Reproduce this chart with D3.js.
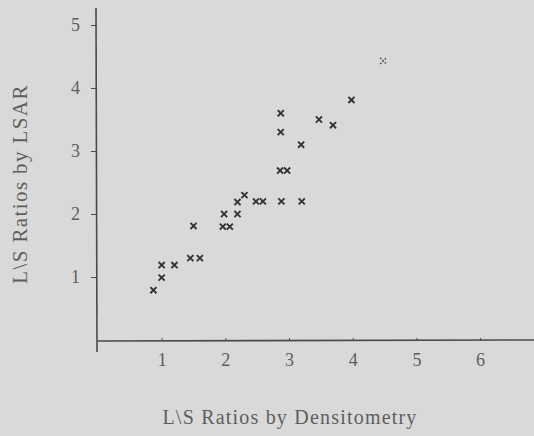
<!DOCTYPE html>
<html>
<head>
<meta charset="utf-8">
<script src="https://cdn.jsdelivr.net/npm/d3@7/dist/d3.min.js"></script>
<style>
  html, body { margin: 0; padding: 0; background: #d9d9d9; }
  svg { display: block; }
</style>
</head>
<body>
<svg id="chart" width="534" height="436"></svg>
<script>
// L/S ratios: densitometry (x) vs LSAR (y)
const densitometry = [0.87, 1.0, 1.0, 1.2, 1.45, 1.6, 1.5, 1.96, 2.07, 1.98, 2.19, 2.19, 2.3, 2.48, 2.59, 2.88, 3.2,
                      2.86, 2.97, 3.19, 2.87, 2.87, 3.47, 3.69, 3.98, 4.48];
const lsar         = [0.79, 0.99, 1.19, 1.19, 1.3, 1.3, 1.81, 1.8, 1.8, 2.0, 2.0, 2.19, 2.3, 2.2, 2.2, 2.2, 2.2,
                      2.69, 2.69, 3.1, 3.3, 3.6, 3.5, 3.41, 3.81, 4.43];
// last reading is drawn with a faint dotted marker
const faint        = [false, false, false, false, false, false, false, false, false, false, false, false, false,
                      false, false, false, false, false, false, false, false, false, false, false, false, true];
const xTicks = [1, 2, 3, 4, 5, 6];
const yTicks = [1, 2, 3, 4, 5];
const xTitle = "L\\S Ratios  by  Densitometry";
const yTitle = "L\\S Ratios by LSAR";

const serif = "Liberation Serif, Times New Roman, serif";
const textCol = "#5e5e5e";
const ink = "#4a4a4a";

const svg = d3.select("#chart");
const x = d3.scaleLinear().domain([0, 6.8]).range([98, 531]);
const y = d3.scaleLinear().domain([0, 5]).range([340, 25]);

// y axis
const gy = svg.append("g").attr("transform", "translate(96,0)")
  .call(d3.axisLeft(y).tickValues(yTicks).tickSize(5).tickPadding(11).tickFormat(d3.format("d")))
  .attr("font-family", serif).attr("font-size", 18);
gy.select(".domain").remove();
gy.selectAll(".tick line").attr("stroke", ink).attr("stroke-width", 1);
gy.selectAll(".tick text").attr("fill", textCol);
svg.append("line").attr("x1", 96).attr("x2", 97).attr("y1", 8).attr("y2", 352)
  .attr("stroke", ink).attr("stroke-width", 1.6);

// x axis
const gx = svg.append("g").attr("transform", "translate(0,341)")
  .call(d3.axisBottom(x).tickValues(xTicks).tickSize(-3).tickPadding(12).tickFormat(d3.format("d")))
  .attr("font-family", serif).attr("font-size", 18);
gx.select(".domain").remove();
gx.selectAll(".tick line").attr("stroke", ink).attr("stroke-width", 1);
gx.selectAll(".tick text").attr("fill", textCol);
svg.append("line").attr("x1", 97).attr("x2", 534).attr("y1", 341).attr("y2", 340)
  .attr("stroke", ink).attr("stroke-width", 1.6);

// titles
svg.append("text").attr("x", 290).attr("y", 424).attr("text-anchor", "middle")
  .attr("font-family", serif).attr("font-size", 20).attr("letter-spacing", 1.2)
  .attr("fill", textCol).text(xTitle);
svg.append("text").attr("transform", "translate(27,184) rotate(-90)").attr("text-anchor", "middle")
  .attr("font-family", serif).attr("font-size", 21).attr("letter-spacing", 1.4)
  .attr("fill", textCol).text(yTitle);

// points
const sym = d3.symbol().type(d3.symbolTimes).size(26);
svg.append("g").selectAll("path")
  .data(densitometry.map((d, i) => ({ x: d, y: lsar[i], faint: faint[i] })))
  .join("path")
  .attr("transform", d => `translate(${x(d.x)},${y(d.y)})`)
  .attr("d", sym)
  .attr("fill", "none")
  .attr("stroke", d => d.faint ? "#555" : "#333")
  .attr("stroke-width", d => d.faint ? 1.6 : 1.9)
  .attr("stroke-dasharray", d => d.faint ? "1.6,1.6" : null);
</script>
</body>
</html>
